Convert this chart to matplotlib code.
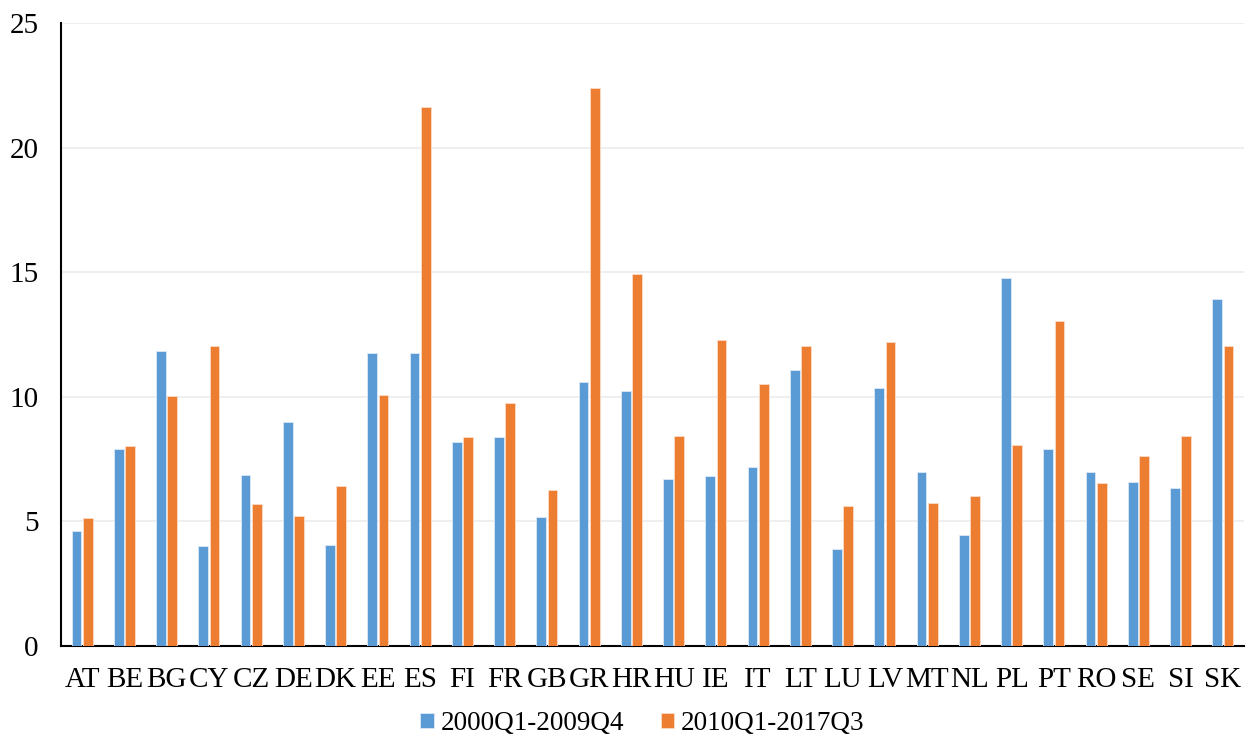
import numpy as np
import matplotlib
import matplotlib.pyplot as plt

matplotlib.use('Agg')

countries = ['AT', 'BE', 'BG', 'CY', 'CZ', 'DE', 'DK', 'EE', 'ES', 'FI', 'FR', 'GB', 'GR', 'HR',
             'HU', 'IE', 'IT', 'LT', 'LU', 'LV', 'MT', 'NL', 'PL', 'PT', 'RO', 'SE', 'SI', 'SK']
period_1 = [4.63, 7.89, 11.85, 4.01, 6.86, 8.99, 4.07, 11.75, 11.77, 8.19, 8.40, 5.18, 10.58, 10.23,
            6.69, 6.81, 7.20, 11.08, 3.88, 10.34, 6.97, 4.47, 14.75, 7.91, 6.97, 6.58, 6.33, 13.91]
period_2 = [5.14, 8.04, 10.03, 12.05, 5.70, 5.22, 6.41, 10.06, 21.62, 8.37, 9.74, 6.26, 22.40, 14.93,
            8.43, 12.28, 10.50, 12.03, 5.63, 12.21, 5.74, 6.02, 8.07, 13.05, 6.53, 7.62, 8.43, 12.05]
labels = ['2000Q1-2009Q4', '2010Q1-2017Q3']

plt.rcParams['font.family'] = ['Liberation Serif', 'DejaVu Serif']

fig = plt.figure(figsize=(12.55, 7.4), dpi=100)
ax = fig.add_axes([61 / 1255, 1 - 646 / 740, (1244 - 61) / 1255, (646 - 23) / 740])

x = np.arange(len(countries))
w = 0.23
ax.bar(x - 0.135, period_1, w, color='#5B9BD5', edgecolor='#DCE9F6', linewidth=0.6,
       label=labels[0], zorder=3)
ax.bar(x + 0.135, period_2, w, color='#ED7D31', edgecolor='#FBDCC8', linewidth=0.6,
       label=labels[1], zorder=3)

ax.set_xlim(-0.5, len(countries) - 0.5)
ax.set_ylim(0, 25)
ax.set_yticks([0, 5, 10, 15, 20, 25])
ax.set_xticks(x)
ax.set_xticklabels(countries)
ax.tick_params(axis='both', length=0, labelsize=21)
ax.tick_params(axis='y', pad=16)
ax.tick_params(axis='x', pad=15)

ax.grid(axis='y', color='#EEEEEE', linewidth=1.3, zorder=0)
for s in ['top', 'right']:
    ax.spines[s].set_visible(False)
ax.spines['left'].set_linewidth(1.5)
ax.spines['bottom'].set_linewidth(1.5)

fig.legend(*ax.get_legend_handles_labels(), loc='center', bbox_to_anchor=(0.512, 0.022),
           ncol=2, frameon=False, fontsize=19.5, handlelength=0.5, handleheight=0.5,
           handletextpad=0.25, columnspacing=1.35, borderpad=0)

fig.savefig('out.png', dpi=100)
